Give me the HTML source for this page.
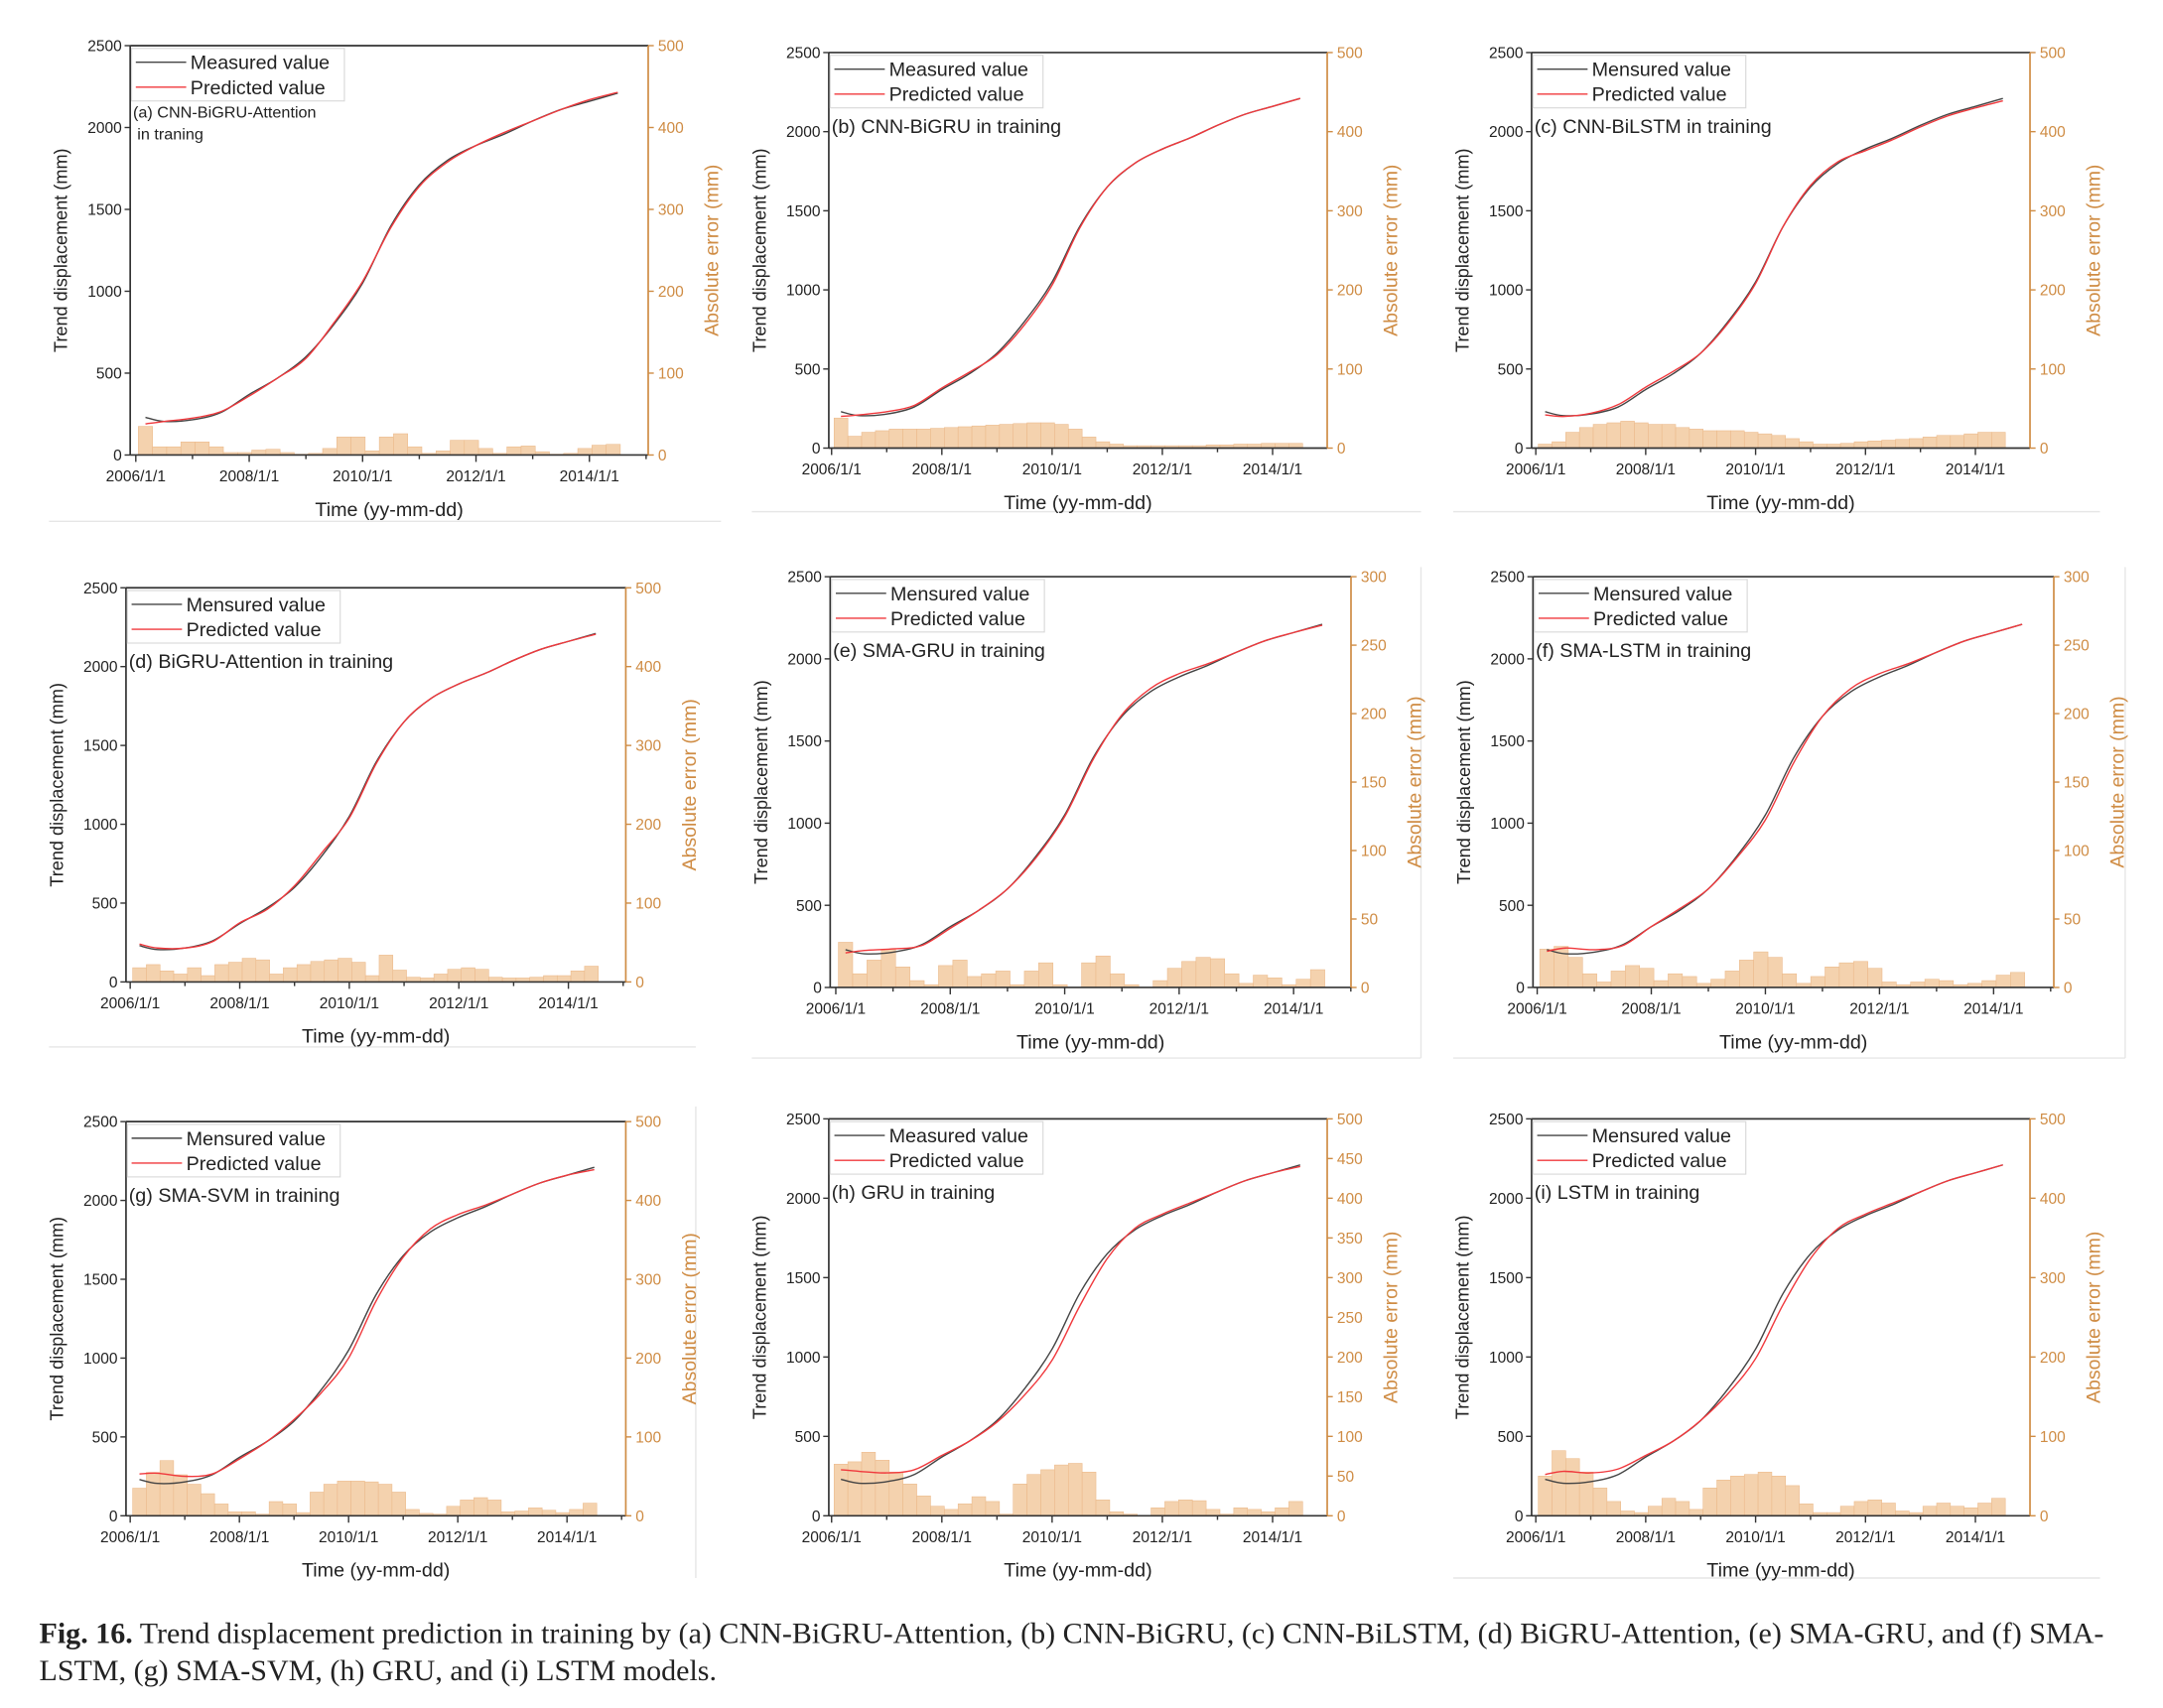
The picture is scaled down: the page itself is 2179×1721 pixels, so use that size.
<!DOCTYPE html>
<html><head><meta charset="utf-8"><style>
html,body{margin:0;padding:0;background:#fff;}
svg{display:block;font-family:"Liberation Sans",Arial,sans-serif;}
.cap{font-family:"Liberation Serif",serif;}
</style></head><body>
<svg id="fig" width="2179" height="1721" viewBox="0 0 1545 1235" preserveAspectRatio="none" xmlns="http://www.w3.org/2000/svg">
<g id="sep" stroke="#e6e6e6" stroke-width="1">
<line x1="35" y1="377" x2="515" y2="377"/><line x1="537" y1="370" x2="1015" y2="370"/><line x1="1038" y1="370" x2="1500" y2="370"/>
<line x1="35" y1="757" x2="497" y2="757"/><line x1="537" y1="765" x2="1015" y2="765"/><line x1="1038" y1="765" x2="1518" y2="765"/>
<line x1="1518" y1="410" x2="1518" y2="765"/><line x1="1015" y1="410" x2="1015" y2="765"/><line x1="497" y1="800" x2="497" y2="1141"/>
<line x1="1038" y1="1141" x2="1500" y2="1141"/>
</g>
<text class="cap" x="28" y="1188" font-size="21.3" fill="#222"><tspan font-weight="bold">Fig. 16.</tspan> Trend displacement prediction in training by (a) CNN-BiGRU-Attention, (b) CNN-BiGRU, (c) CNN-BiLSTM, (d) BiGRU-Attention, (e) SMA-GRU, and (f) SMA-</text>
<text class="cap" x="28" y="1215" font-size="21.3" fill="#222">LSTM, (g) SMA-SVM, (h) GRU, and (i) LSTM models.</text>
</svg>
<script>
// shared data
const tLine = [2006.17,2006.5,2007,2007.5,2008,2008.5,2009,2009.5,2010,2010.5,2011,2011.5,2012,2012.5,2013,2013.5,2014,2014.5];
const measured = [230,205,215,260,370,470,600,800,1050,1400,1650,1800,1890,1960,2040,2110,2160,2210];
const tBar = [2006.17,2006.42,2006.67,2006.92,2007.17,2007.42,2007.67,2007.92,2008.17,2008.42,2008.67,2008.92,2009.17,2009.42,2009.67,2009.92,2010.17,2010.42,2010.67,2010.92,2011.17,2011.42,2011.67,2011.92,2012.17,2012.42,2012.67,2012.92,2013.17,2013.42,2013.67,2013.92,2014.17,2014.42];
const xTickYears = [2006,2008,2010,2012,2014];
const leftTicks = [0,500,1000,1500,2000,2500];
// predicted series
const predA = [190,205,225,265,360,470,590,810,1060,1390,1640,1790,1890,1970,2040,2110,2170,2215];
const predB = [200,210,230,270,380,480,590,780,1030,1390,1650,1800,1890,1960,2040,2110,2160,2210];
const predC = [210,200,220,275,385,485,600,790,1040,1400,1660,1810,1880,1950,2030,2100,2150,2195];
const predD = [240,215,215,255,375,460,610,820,1040,1390,1650,1800,1890,1960,2040,2110,2160,2205];
const predE = [210,225,235,255,360,470,600,790,1040,1390,1660,1820,1910,1970,2040,2110,2160,2205];
const predF = [220,240,230,255,370,480,600,790,1020,1370,1650,1820,1910,1970,2040,2110,2160,2210];
const predG = [265,270,250,265,360,470,610,780,1000,1360,1640,1820,1910,1970,2040,2110,2160,2195];
const predH = [290,280,270,290,380,470,590,760,980,1320,1620,1810,1900,1970,2040,2110,2160,2200];
const predI = [260,280,270,295,380,470,600,770,990,1330,1620,1810,1900,1970,2040,2110,2160,2210];
// absolute error series
const errA = [35,10,10,16,16,10,3,3,6,7,3,1,2,8,22,22,5,22,26,10,2,5,18,18,8,2,10,11,4,1,2,8,12,13];
const errB = [38,15,20,22,24,24,24,25,26,27,28,29,30,31,32,32,30,24,14,8,5,3,3,3,3,3,3,4,4,5,5,6,6,6];
const errC = [5,8,20,26,30,32,34,32,30,30,26,24,22,22,22,20,18,16,12,8,5,5,6,8,9,10,11,12,14,16,16,18,20,20];
const errD = [18,22,14,10,18,8,22,25,30,28,10,18,22,26,28,30,25,8,34,15,6,5,10,16,18,16,6,5,5,6,8,8,14,20];
const errE = [33,10,20,28,15,5,2,16,20,8,10,12,2,12,18,2,0,18,23,10,2,0,5,14,19,22,21,10,3,9,7,2,6,13];
const errF = [28,30,22,10,4,12,16,14,5,10,8,3,6,12,20,26,22,10,3,8,15,18,19,14,4,2,4,6,5,2,3,5,9,11];
const errG = [35,55,70,52,40,28,15,5,5,2,18,15,4,30,40,44,44,43,40,30,8,3,2,12,20,23,20,5,6,10,7,4,8,16];
const errH = [65,68,80,70,55,40,25,12,8,15,24,18,2,40,52,58,64,66,55,20,5,2,0,10,18,20,19,8,2,10,8,5,10,18];
const errI = [50,82,72,55,35,18,6,4,12,22,18,8,35,45,50,52,55,50,38,15,4,4,12,18,20,16,6,4,12,16,12,10,16,22];

const panels = [
 {k:'a',L:93,R:463,T:33,B:329,x06:97,x14:421,rmax:500,rstep:100,m:'Measured value',lab:['(a) CNN-BiGRU-Attention','in traning'],p:predA,e:errA},
 {k:'b',L:592,R:948,T:38,B:324,x06:594,x14:909,rmax:500,rstep:100,m:'Measured value',lab:['(b) CNN-BiGRU in training'],p:predB,e:errB},
 {k:'c',L:1094,R:1450,T:38,B:324,x06:1097,x14:1411,rmax:500,rstep:100,m:'Mensured value',lab:['(c) CNN-BiLSTM in training'],p:predC,e:errC},
 {k:'d',L:90,R:447,T:425,B:710,x06:93,x14:406,rmax:500,rstep:100,m:'Mensured value',lab:['(d) BiGRU-Attention in training'],p:predD,e:errD},
 {k:'e',L:593,R:965,T:417,B:714,x06:597,x14:924,rmax:300,rstep:50,m:'Mensured value',lab:['(e) SMA-GRU in training'],p:predE,e:errE},
 {k:'f',L:1095,R:1467,T:417,B:714,x06:1098,x14:1424,rmax:300,rstep:50,m:'Mensured value',lab:['(f) SMA-LSTM in training'],p:predF,e:errF},
 {k:'g',L:90,R:447,T:811,B:1096,x06:93,x14:405,rmax:500,rstep:100,m:'Mensured value',lab:['(g) SMA-SVM in training'],p:predG,e:errG},
 {k:'h',L:592,R:948,T:809,B:1096,x06:594,x14:909,rmax:500,rstep:50,m:'Measured value',lab:['(h) GRU in training'],p:predH,e:errH},
 {k:'i',L:1094,R:1450,T:809,B:1096,x06:1097,x14:1411,rmax:500,rstep:100,m:'Mensured value',lab:['(i) LSTM in training'],p:predI,e:errI}
];
const NS='http://www.w3.org/2000/svg';
const svg=document.getElementById('fig');
const OR='#cf8c44';
function mk(tag,attrs,parent){const el=document.createElementNS(NS,tag);for(const a in attrs)el.setAttribute(a,attrs[a]);(parent||svg).appendChild(el);return el;}
function smooth(pts){let d='M'+pts[0][0].toFixed(2)+','+pts[0][1].toFixed(2);
 for(let i=0;i<pts.length-1;i++){const p0=pts[i-1]||pts[i],p1=pts[i],p2=pts[i+1],p3=pts[i+2]||p2;
  const c1=[p1[0]+(p2[0]-p0[0])/6,p1[1]+(p2[1]-p0[1])/6],c2=[p2[0]-(p3[0]-p1[0])/6,p2[1]-(p3[1]-p1[1])/6];
  d+=' C'+c1[0].toFixed(2)+','+c1[1].toFixed(2)+' '+c2[0].toFixed(2)+','+c2[1].toFixed(2)+' '+p2[0].toFixed(2)+','+p2[1].toFixed(2);}
 return d;}
panels.forEach(P=>{
 const g=mk('g',{});
 
 
 const ppy=(P.x14-P.x06)/8;
 const xs=t=>P.x06+(t-2006)*ppy;
 const yl=v=>P.B-(v/2500)*(P.B-P.T);
 const yr=v=>P.B-(v/P.rmax)*(P.B-P.T);
 const bg=mk('g',{},g);
 
 
 const bw=ppy*0.25;
 tBar.forEach((t,i)=>{
  const v=P.e[i];
  const r=mk('rect',{x:xs(t)-bw/2,y:yr(v),width:bw,height:Math.max(0,P.B-yr(v)),fill:'#f4d2ae',stroke:'#ebb98a','stroke-width':0.4},bg);
  
  
 });
 const ml=mk('path',{d:smooth(tLine.map((t,i)=>[xs(t),yl(measured[i])])),fill:'none',stroke:'#444','stroke-width':1},g);
 
 
 const pl=mk('path',{d:smooth(tLine.map((t,i)=>[xs(t),yl(P.p[i])])),fill:'none',stroke:'#f0383c','stroke-width':1},g);
 
 
 mk('line',{x1:P.L,y1:P.T,x2:P.R,y2:P.T,stroke:'#333','stroke-width':1.2},g);
 mk('line',{x1:P.L,y1:P.B,x2:P.R,y2:P.B,stroke:'#333','stroke-width':1.2},g);
 mk('line',{x1:P.L,y1:P.T,x2:P.L,y2:P.B,stroke:'#333','stroke-width':1.2},g);
 mk('line',{x1:P.R,y1:P.T,x2:P.R,y2:P.B,stroke:OR,'stroke-width':1.2},g);
 leftTicks.forEach(v=>{
  mk('line',{x1:P.L-4,y1:yl(v),x2:P.L,y2:yl(v),stroke:'#333'},g);
  const t=mk('text',{x:P.L-6,y:yl(v)+4,'text-anchor':'end','font-size':11,fill:'#222'},g);t.textContent=v;
  
  
 });
 for(let v=0;v<=P.rmax+0.1;v+=P.rstep){
  mk('line',{x1:P.R,y1:yr(v),x2:P.R+4,y2:yr(v),stroke:OR},g);
  const t=mk('text',{x:P.R+7,y:yr(v)+4,'font-size':11,fill:OR},g);t.textContent=v;
  
  
 }
 for(let yv=2006;yv<=2015;yv++){const x=xs(yv);if(x>P.R)break;
  mk('line',{x1:x,y1:P.B,x2:x,y2:P.B+(yv%2===0?5:3),stroke:'#333'},g);}
 xTickYears.forEach(yv=>{
  const t=mk('text',{x:xs(yv),y:P.B+19,'text-anchor':'middle','font-size':11,fill:'#222'},g);t.textContent=yv+'/1/1';
  
  
 });
 const cx=(P.L+P.R)/2;
 const xt=mk('text',{x:cx,y:P.B+44,'text-anchor':'middle','font-size':14,fill:'#222'},g);xt.textContent='Time (yy-mm-dd)';
 
 
 const cy=(P.T+P.B)/2;
 const ly=mk('text',{x:0,y:0,'text-anchor':'middle','font-size':13,fill:'#222',transform:'translate('+(P.L-45)+','+cy+') rotate(-90)'},g);ly.textContent='Trend displacement (mm)';
 
 
 const ry=mk('text',{x:0,y:0,'text-anchor':'middle','font-size':14,fill:OR,transform:'translate('+(P.R+50)+','+cy+') rotate(-90)'},g);ry.textContent='Absolute error (mm)';
 
 
 const lg=mk('g',{},g);
 
 
 mk('rect',{x:P.L+1,y:P.T+2,width:152,height:38,fill:'#fff',stroke:'#d8d8d8','stroke-width':0.8},lg);
 mk('line',{x1:P.L+4,y1:P.T+12,x2:P.L+40,y2:P.T+12,stroke:'#444'},lg);
 mk('line',{x1:P.L+4,y1:P.T+30,x2:P.L+40,y2:P.T+30,stroke:'#f0383c'},lg);
 const t1=mk('text',{x:P.L+43,y:P.T+17,'font-size':14,fill:'#222'},lg);t1.textContent=P.m;
 
 
 const t2=mk('text',{x:P.L+43,y:P.T+35,'font-size':14,fill:'#222'},lg);t2.textContent='Predicted value';
 
 
 const small=P.lab.length>1;
 P.lab.forEach((s,i)=>{
  const t=mk('text',{x:P.L+2+(i?3:0),y:P.T+(small?52:58)+i*16,'font-size':small?11.5:14,fill:'#222'},g);t.textContent=s;
  
  
 });
});
</script>
</body></html>
